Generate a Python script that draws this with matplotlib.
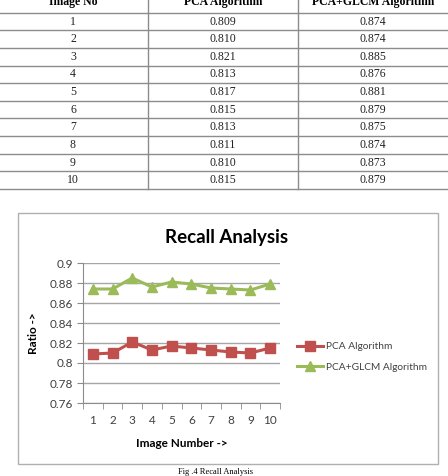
import matplotlib
matplotlib.use("Agg")
import matplotlib.pyplot as plt
from matplotlib.patches import Rectangle

# table + chart data
image_no = [1, 2, 3, 4, 5, 6, 7, 8, 9, 10]
pca = [0.809, 0.810, 0.821, 0.813, 0.817, 0.815, 0.813, 0.811, 0.810, 0.815]
pca_glcm = [0.874, 0.874, 0.885, 0.876, 0.881, 0.879, 0.875, 0.874, 0.873, 0.879]
headers = ["Image No", "PCA Algorithm", "PCA+GLCM Algorithm"]
y_ticks = [0.76, 0.78, 0.8, 0.82, 0.84, 0.86, 0.88, 0.9]

W, H = 448, 476
fig = plt.figure(figsize=(W / 100, H / 100), dpi=100)

# overlay in pixel coords for the table, box and caption
bg = fig.add_axes([0, 0, 1, 1])
bg.set_xlim(0, W)
bg.set_ylim(H, 0)
bg.axis("off")

serif = "Liberation Serif"
grid_c = "#8c8c8c"
row_h = 17.63
col_x = [73, 223, 373]

# header row (cut off at the top of the picture, as in the source)
for cx, h in zip(col_x, headers):
    bg.text(cx, 1.5, h, ha="center", va="center", family=serif,
            fontsize=8.5, fontweight="bold")
for i in range(len(image_no) + 1):
    y = 12.7 + i * row_h
    bg.plot([0, W], [y, y], color=grid_c, lw=1)
for x in [148, 298]:
    bg.plot([x, x], [0, 12.7 + len(image_no) * row_h], color=grid_c, lw=1)
for i, (n, a, b) in enumerate(zip(image_no, pca, pca_glcm)):
    yc = 12.7 + (i + 0.5) * row_h
    for cx, s in zip(col_x, [str(n), "%.3f" % a, "%.3f" % b]):
        bg.text(cx, yc, s, ha="center", va="center", family=serif, fontsize=8.5,
                color="#222222")

# chart box
bg.add_patch(Rectangle((18, 213), 420, 251, fill=False, ec="#b0b0b0", lw=1))
bg.text(227, 237, "Recall Analysis", ha="center", va="center", family="Lato",
        fontsize=13.5, fontweight="bold")
bg.text(215, 472, "Fig .4 Recall Analysis", ha="center", va="center",
        family=serif, fontsize=6)

# plot area
l, r, t, b = 83, 280, 263, 403
ax = fig.add_axes([l / W, (H - b) / H, (r - l) / W, (b - t) / H])
ax.plot(image_no, pca, color="#C0504D", lw=2.2, marker="s", ms=6.5,
        label="PCA Algorithm")
ax.plot(image_no, pca_glcm, color="#9BBB59", lw=2.2, marker="^", ms=7,
        label="PCA+GLCM Algorithm")
ax.set_xlim(0.5, 10.5)
ax.set_ylim(0.76, 0.9)
ax.set_yticks(y_ticks)
ax.set_yticklabels(["0.76", "0.78", "0.8", "0.82", "0.84", "0.86", "0.88", "0.9"])
ax.set_xticks(image_no)
ax.set_xticks([i + 0.5 for i in range(0, 11)], minor=True)
ax.tick_params(axis="x", which="major", length=0, pad=9, labelsize=8.5,
               colors="#404040")
ax.tick_params(axis="x", which="minor", length=4, color="#8c8c8c", direction="out")
ax.tick_params(axis="y", length=4, color="#8c8c8c", labelsize=8.5, colors="#404040",
               pad=3)
for lab in ax.get_xticklabels() + ax.get_yticklabels():
    lab.set_family("Lato")
ax.grid(axis="y", color="#a6a6a6", lw=1)
ax.set_axisbelow(True)
for s in ["top", "right"]:
    ax.spines[s].set_visible(False)
for s in ["left", "bottom"]:
    ax.spines[s].set_color("#8c8c8c")
ax.set_xlabel("Image Number ->", family="Lato", fontsize=8.5, fontweight="bold",
              labelpad=8)
ax.set_ylabel("Ratio ->", family="Lato", fontsize=8.5, fontweight="bold", labelpad=8)

leg = ax.legend(loc="center left", frameon=False, handlelength=2.6,
                handletextpad=0.25, labelspacing=1.1,
                prop={"family": "Lato", "size": 7.3})
leg.set_bbox_to_anchor(((288 - l) / (r - l), (b - 357) / (b - t)), transform=ax.transAxes)
for txt in leg.get_texts():
    txt.set_color("#404040")

fig.savefig("out.png", dpi=100)
